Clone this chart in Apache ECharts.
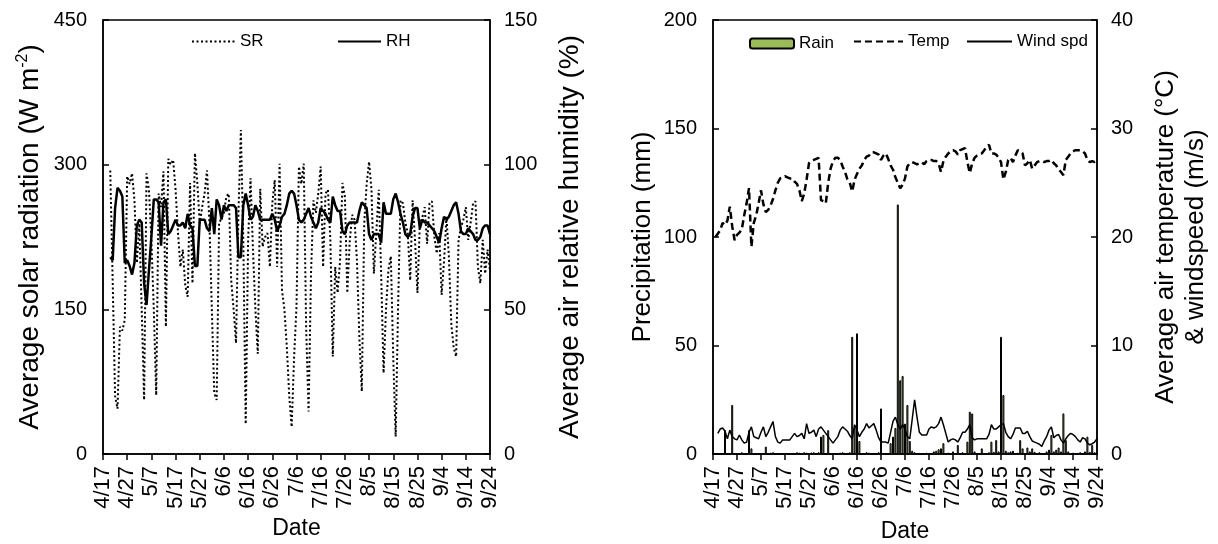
<!DOCTYPE html>
<html>
<head>
<meta charset="utf-8">
<script src="https://cdn.jsdelivr.net/npm/echarts@6/dist/echarts.min.js"></script>
<style>
html,body{margin:0;padding:0;background:#fff;}
#chart{width:1218px;height:544px;}
</style>
</head>
<body>
<div id="chart"></div>
<script>
// ---- Data (daily, 4/17 .. 9/24) ----
const startMonth = 4, startDay = 17, nDays = 161;
const monthLengths = {4: 30, 5: 31, 6: 30, 7: 31, 8: 31, 9: 30};

// Average solar radiation (W m-2)
const srValues = [null,null,null,294,180,60,47,132,128,139,
288,280,291,263,198,239,150,56,291,274,
222,150,61,270,256,293,132,306,300,305,
274,230,194,212,175,163,281,177,312,281,
239,256,270,294,239,150,63,56,239,245,
250,267,270,180,150,115,250,336,222,31,
222,286,212,150,104,275,215,225,229,194,
260,284,194,301,170,150,111,60,28,100,
153,298,280,301,130,44,187,263,250,270,
298,194,270,274,222,101,194,167,200,281,
267,167,220,248,243,200,120,65,239,280,
303,274,187,230,274,187,84,150,191,205,
100,18,153,263,260,240,229,180,263,222,
167,239,245,256,218,260,262,225,208,229,
165,200,246,205,135,110,101,222,235,243,
256,222,240,260,262,194,177,222,187,212,
190];

// Average air relative humidity (%)
const rhValues = [null,null,null,68,67,85,92,91,89,66,
67,65,62,66,79,81,80,59,51.5,63.6,
75,88,88,87,72,87,88,76,77,79,
81,79,79,80,78,83,79,78,65,65,
81,81,81,78,77,85,76,88,86,81,
86,84,86,86,86,85,68,68,86,90,
86,81,82,86,84,81,81,81,81,81,
83,81,77,79,82,83,86,90,91,90,
86,81,80,81,83,85,82,80,78,80,
85,84,83,81,80,89,86,84,84,77,
76,79,80,80,80,80,84,87,86,85,
76,74,76,76,76,73,87,83,83,83,
88,90,87,83,80,76,75,76,82,85,
85,78,81,80,80,79,78,77,75,73,
78,82,81,82,84,86,87,83,77,76,
76,78,77,76,74,74,75,78,79,79,
76];

// Precipitation (mm)
const rainValues = [0,0,0,0,0,11,0,0,22.6,0,
0,0,0.8,0,0,11,2.6,0,0,0,
0,0,3.4,0,0.6,0.8,0,0,0,0,
0,0,0,0.5,0,0.8,0.6,0,0.8,0.6,
0,0.7,0.8,0,0.8,8,8.8,0,11,0,
0,0,0,0.6,0.8,0,0,0.8,54,12,
55.6,6,0,0,0.8,0.6,0,0,0,0.8,
21,0.5,0,0,5,8,12,115,34,36,
14,22.6,6,1.5,0.8,0,0,0,0,0.6,
0,0,1.2,1.5,2.2,2.6,5,0,0.6,0,
1.2,0,4.2,0,0.8,0,5.7,19.5,18.7,1.2,
0,0,2.6,0,0,0.8,5.7,1,6.4,1.2,
54,27.2,1.5,0.8,1.2,1.5,0,0.6,6.4,2.6,
0,3,1.2,2.6,1,0,0.8,0,0,1.2,
2,8.8,1.2,2,3,1.2,18.7,6.4,1.2,0,
0.6,0,0,0.8,0,1.2,8,1,4.2,0.8,
0];

// Average air temperature (°C)
const tempValues = [null,20.0,20.3,20.6,21.3,21.1,21.5,22.8,21.0,19.7,
20.2,20.4,20.7,22.0,23.1,24.5,19.1,21.3,22.0,23.1,
24.3,23.0,22.3,22.5,22.9,23.5,24.3,25.0,25.4,25.5,
25.6,25.5,25.4,25.4,25.1,24.9,24.3,23.3,24.0,25.3,
26.8,27.0,27.1,27.2,27.3,23.4,23.3,23.1,25.0,26.3,
27.0,27.3,27.3,27.1,26.5,26.0,25.3,25.0,24.2,25.3,
25.8,26.3,26.6,27.1,27.4,27.5,27.8,27.8,27.7,27.6,
27.1,27.5,27.7,27.2,26.6,26.2,25.5,25.0,24.5,24.8,
25.4,26.5,26.8,26.9,26.8,26.7,26.8,26.9,26.7,27.0,
27.1,27.1,27.0,27.0,26.8,26.0,27.0,27.4,27.7,27.9,
28.0,27.9,27.6,28.0,28.1,28.2,26.9,25.9,26.8,27.3,
27.5,27.6,27.7,28.0,28.3,28.5,27.7,27.7,27.6,27.3,
26.9,25.3,26.0,27.1,27.3,26.9,27.5,28.0,27.9,27.7,
26.6,26.8,27.1,26.3,26.6,26.9,27.0,27.0,26.9,27.0,
27.0,27.1,26.8,26.6,26.2,26.0,25.7,27.1,27.4,27.7,
27.9,28.0,28.0,28.0,27.9,27.7,27.1,26.9,27.0,26.9,
27.1];

// Wind speed (m/s)
const windValues = [null,null,1.9,2.3,2.4,2.1,1.4,2.2,1.6,1.4,
1.3,1.75,1.3,1.0,1.1,2.0,2.5,1.6,1.5,1.4,
2.0,2.5,1.6,2.0,2.5,3.0,1.6,1.1,1.0,1.3,
1.3,1.3,1.3,1.6,1.9,1.6,1.7,1.9,1.4,2.8,
1.9,2.0,2.2,1.6,2.3,2.5,2.2,1.9,1.6,1.3,
1.0,1.3,1.6,2.2,2.5,2.3,2.1,1.7,1.4,2.7,
2.2,1.6,2.0,2.3,2.8,2.4,2.6,2.8,2.2,1.5,
1.1,1.1,1.1,1.0,2.0,3.0,3.4,2.7,2.3,2.7,
2.3,1.6,1.4,3.2,5.0,3.4,2.0,1.75,1.75,1.75,
2.3,2.5,2.4,2.5,2.8,3.4,2.7,1.9,1.1,1.3,
1.4,1.3,1.1,1.5,2.0,2.0,2.3,2.7,1.5,1.3,
1.4,1.4,1.4,1.4,1.4,1.8,2.7,2.3,2.3,2.5,
2.7,2.8,2.0,1.6,1.4,1.8,2.4,2.4,2.4,1.9,
1.9,2.1,1.6,1.2,1.1,1.0,0.9,0.7,1.2,1.6,
2.2,2.5,1.5,1.7,1.8,1.3,1.0,1.4,1.7,1.9,
1.8,1.6,1.3,1.1,1.5,1.4,1.0,0.85,0.95,1.1,
1.4];

// Axis ticks
const srTicks = {min: 0, max: 450, interval: 150};
const rhTicks = {min: 0, max: 150, interval: 50};
const rainTicks = {min: 0, max: 200, interval: 50};
const tempTicks = {min: 0, max: 40, interval: 10};
const labelEvery = 10;

// Date categories "M/D"
const dates = [];
(function () {
  let m = startMonth, d = startDay;
  for (let i = 0; i < nDays; i++) {
    dates.push(m + '/' + d);
    d++;
    if (d > monthLengths[m]) { d = 1; m++; }
  }
})();

const FONT = "'Liberation Sans', Arial, sans-serif";
const black = '#000';

function xAxisCfg(gridIndex, gap) {
  return {
    type: 'category', gridIndex: gridIndex, data: dates, boundaryGap: false,
    axisLine: {lineStyle: {color: black, width: 1.5}},
    axisTick: {interval: labelEvery - 1, length: 6, lineStyle: {color: black, width: 1.5}},
    axisLabel: {interval: labelEvery - 1, rotate: 90, fontSize: 22, color: black, fontFamily: FONT, margin: 12},
    splitLine: {show: false},
    name: 'Date', nameLocation: 'middle', nameGap: gap,
    nameTextStyle: {fontSize: 23, color: black, fontFamily: FONT}
  };
}
function yAxisCfg(gridIndex, pos, ticks, name, gap, titleSize, extra) {
  const cfg = {
    type: 'value', gridIndex: gridIndex, position: pos,
    min: ticks.min, max: ticks.max, interval: ticks.interval,
    axisLine: {show: true, lineStyle: {color: black, width: 1.5}},
    axisTick: {show: true, inside: true, length: 6, lineStyle: {color: black, width: 1.5}},
    axisLabel: {fontSize: 20, color: black, fontFamily: FONT, margin: pos === 'left' ? 16 : 14},
    splitLine: {show: false},
    name: name, nameLocation: 'middle', nameGap: gap,
    nameTextStyle: {fontSize: titleSize, color: black, fontFamily: FONT}
  };
  return Object.assign(cfg, extra || {});
}

const chart = echarts.init(document.getElementById('chart'), null, {renderer: 'canvas'});
const legendText = {fontSize: 17, color: black, fontFamily: FONT};
const hideSymbol = {opacity: 0};
chart.setOption({
  animation: false,
  backgroundColor: '#fff',
  grid: [
    {left: 103, right: 728, top: 20, bottom: 90, outerBoundsMode: 'none', containLabel: false,
      show: true, borderColor: black, borderWidth: 1.5, backgroundColor: 'transparent'},
    {left: 713, right: 121, top: 20, bottom: 90, outerBoundsMode: 'none', containLabel: false,
      show: true, borderColor: black, borderWidth: 1.5, backgroundColor: 'transparent'}
  ],
  legend: [
    {data: ['SR'], left: 186, top: 28, itemWidth: 43, itemHeight: 14, itemStyle: hideSymbol, textStyle: legendText},
    {data: ['RH'], left: 332, top: 28, itemWidth: 43, itemHeight: 14, itemStyle: hideSymbol, textStyle: legendText},
    {data: ['Rain'], left: 744, top: 30, itemWidth: 44, itemHeight: 10, textStyle: legendText},
    {data: ['Temp'], left: 848, top: 28, itemWidth: 49, itemHeight: 14, itemStyle: hideSymbol, textStyle: legendText},
    {data: ['Wind spd'], left: 961, top: 28, itemWidth: 45, itemHeight: 14, itemStyle: hideSymbol, textStyle: legendText}
  ],
  xAxis: [xAxisCfg(0, 62), xAxisCfg(1, 66)],
  yAxis: [
    yAxisCfg(0, 'left', srTicks, 'Average solar radiation (W m{sup|-2})', 58, 28, {
      nameTextStyle: {fontSize: 28, color: black, fontFamily: FONT,
        rich: {sup: {fontSize: 16, color: black, fontFamily: FONT, padding: [0, 0, 14, 0]}}}
    }),
    yAxisCfg(0, 'right', rhTicks, 'Average air relative humidity (%)', 66, 28, {nameRotate: 90}),
    yAxisCfg(1, 'left', rainTicks, 'Precipitation (mm)', 57, 26),
    yAxisCfg(1, 'right', tempTicks, 'Average air temperature (°C)\n& windspeed (m/s)', 54, 26, {
      nameRotate: 90,
      nameTextStyle: {fontSize: 26, color: black, fontFamily: FONT, lineHeight: 30, align: 'center'}
    })
  ],
  series: [
    {name: 'SR', type: 'line', xAxisIndex: 0, yAxisIndex: 0, data: srValues, symbol: 'none',
      lineStyle: {color: black, width: 2, type: [2, 2.5]}, itemStyle: {color: black}, z: 3},
    {name: 'RH', type: 'line', xAxisIndex: 0, yAxisIndex: 1, data: rhValues, symbol: 'none',
      lineStyle: {color: black, width: 2.5}, itemStyle: {color: black}, z: 4},
    {name: 'Rain', type: 'bar', xAxisIndex: 1, yAxisIndex: 2, data: rainValues, barWidth: 2,
      itemStyle: {color: '#9BBB59', borderColor: black, borderWidth: 1}, z: 2},
    {name: 'Temp', type: 'line', xAxisIndex: 1, yAxisIndex: 3, data: tempValues, symbol: 'none',
      lineStyle: {color: black, width: 2.5, type: [7, 4]}, itemStyle: {color: black}, z: 4},
    {name: 'Wind spd', type: 'line', xAxisIndex: 1, yAxisIndex: 3, data: windValues, symbol: 'none',
      lineStyle: {color: black, width: 1.5}, itemStyle: {color: black}, z: 4}
  ]
});
</script>
</body>
</html>
